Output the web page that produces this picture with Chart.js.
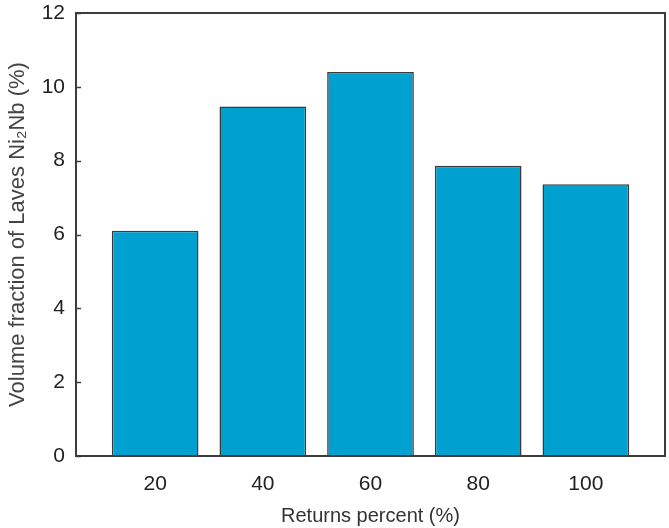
<!DOCTYPE html>
<html><head><meta charset="utf-8">
<script src="https://cdn.jsdelivr.net/npm/chart.js@4.4.1/dist/chart.umd.min.js"></script>
<style>html,body{margin:0;padding:0;background:#fff}#wrap{width:669px;height:528px}</style>
</head><body><div id="wrap"><canvas id="c" width="669" height="528"></canvas></div>
<script>
const categories = [20, 40, 60, 80, 100];
const volumeFraction = [6.1, 9.47, 10.4, 7.86, 7.36];
const yTicks = [0, 2, 4, 6, 8, 10, 12];
const xTitle = 'Returns percent (%)';
const yTitle = 'Volume fraction of Laves Ni\u2082Nb (%)';

const frame = {
  id: 'frame',
  afterDatasetsDraw(chart) {
    const {ctx, chartArea: a, scales: {y}} = chart;
    ctx.save();
    ctx.strokeStyle = '#3c3c3c';
    ctx.lineWidth = 2;
    ctx.strokeRect(a.left, a.top, a.right - a.left, a.bottom - a.top);
    ctx.lineWidth = 1.5;
    y.ticks.forEach(t => {
      const py = Math.round(y.getPixelForValue(t.value)) + 0.5;
      ctx.beginPath(); ctx.moveTo(a.left, py); ctx.lineTo(a.left + 5, py); ctx.stroke();
    });
    ctx.restore();
  }
};

new Chart(document.getElementById('c'), {
  type: 'bar',
  data: {
    datasets: [{
      data: categories.map((c, i) => ({x: c, y: volumeFraction[i]})),
      backgroundColor: '#00a0d1',
      borderColor: '#3a3a3a',
      borderWidth: 1.5,
      barPercentage: 0.805,
      categoryPercentage: 1
    }]
  },
  options: {
    responsive: false,
    animation: false,
    events: [],
    layout: {padding: {left: 0, right: 4, top: 13, bottom: 0}},
    plugins: {legend: {display: false}, tooltip: {enabled: false}},
    scales: {
      x: {
        type: 'linear', min: 5.3, max: 114.7, offset: false,
        afterBuildTicks: s => { s.ticks = categories.map(v => ({value: v})); },
        afterFit: s => { s.height = 72; s.paddingLeft = 0; s.paddingRight = 0; },
        grid: {display: false, drawTicks: false, offset: false},
        border: {display: false},
        ticks: {color: '#222', font: {family: 'Liberation Sans', size: 21}, padding: 16, autoSkip: false, maxRotation: 0},
        title: {display: true, text: xTitle, color: '#333', font: {family: 'Liberation Sans', size: 20}, padding: {top: 8, bottom: 0}}
      },
      y: {
        min: 0, max: 12,
        afterBuildTicks: s => { s.ticks = yTicks.map(v => ({value: v})); },
        afterFit: s => { s.width = 76; s.paddingTop = 0; s.paddingBottom = 0; },
        grid: {display: false, drawTicks: false},
        border: {display: false},
        ticks: {color: '#222', font: {family: 'Liberation Sans', size: 21}, padding: 11},
        title: {display: true, text: yTitle, color: '#444', font: {family: 'Liberation Sans', size: 22}, padding: {top: 5, bottom: 0}}
      }
    }
  },
  plugins: [frame]
});
</script></body></html>
